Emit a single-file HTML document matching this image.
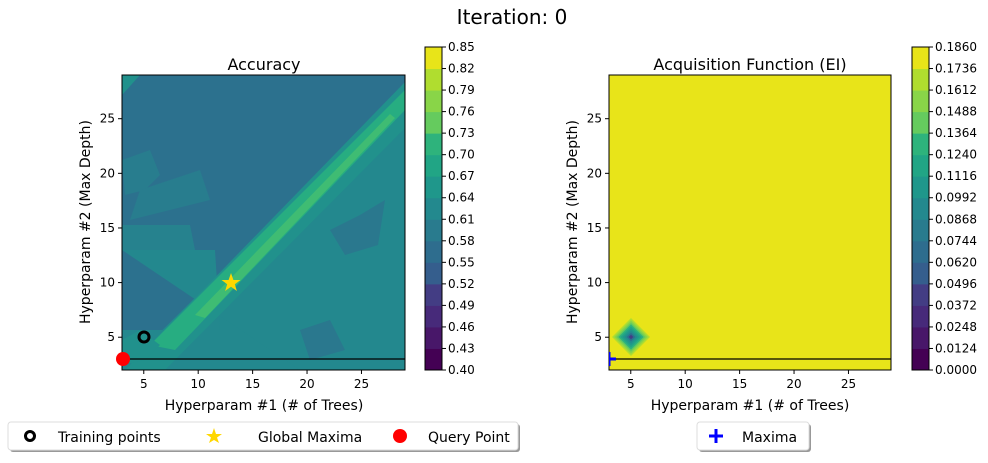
<!DOCTYPE html>
<html><head><meta charset="utf-8"><style>
body{margin:0;background:#fff;}
svg text{font-family:"DejaVu Sans","Liberation Sans",sans-serif;}
</style></head><body>
<svg id="s" width="988" height="458" xmlns="http://www.w3.org/2000/svg">
<rect width="988" height="458" fill="#fff"/>
<text x="512" y="24" font-size="20" text-anchor="middle">Iteration: 0</text>
<text x="264" y="70" font-size="16" text-anchor="middle">Accuracy</text>
<text x="750" y="70" font-size="16" text-anchor="middle">Acquisition Function (EI)</text>
<defs><clipPath id="cl"><rect x="122" y="75" width="283" height="295"/></clipPath>
<clipPath id="cr"><rect x="609" y="75" width="282" height="295"/></clipPath></defs>
<g clip-path="url(#cl)">
<rect x="122" y="75" width="283" height="295" fill="#2c718e"/>
<polygon points="122,370 405,90 405,370" fill="#23888e"/>
<polygon points="122,225 190,225 195,250 122,250" fill="#26828e"/>
<polygon points="122,250 215,250 220,330 122,330 122,370 300,370" fill="#23888e"/>
<polygon points="330,230 360,215 385,200 378,245 345,255" fill="#2a788e"/>
<polygon points="300,330 330,320 345,350 310,360" fill="#2a788e"/>
<polygon points="122,160 150,150 160,175 145,190 125,195" fill="#287d8e"/>
<polygon points="140,190 200,170 210,200 170,210 130,220" fill="#287d8e"/>
<polygon points="122,75 140,75 122,95" fill="#21918c"/>
<polygon points="125,370 165,370 405,128 405,82 " fill="#21918c"/>
<polygon points="150,345 175,350 405,110 405,90 " fill="#27ad81"/>
<polygon points="195,315 205,318 395,118 390,114" fill="#3fbc73"/>
<polygon points="122,340 140,330 160,345 145,360 122,365" fill="#21918c"/>
</g>
<rect x="122" y="75" width="283" height="295" fill="none" stroke="#000" stroke-width="1"/>
<line x1="122" y1="359" x2="405" y2="359" stroke="#000" stroke-width="1.2"/>
<circle cx="144" cy="337" r="5" fill="none" stroke="#000" stroke-width="3"/>
<polygon points="231,273 233.4,280 240.5,280 234.8,284.2 236.9,291 231,286.8 225.1,291 227.2,284.2 221.5,280 228.6,280" fill="#ffd700"/>
<circle cx="123" cy="359" r="7" fill="#f00"/>

<rect x="609" y="75" width="282" height="295" fill="#e8e419"/>
<g id="dia"></g>
<rect x="609" y="75" width="282" height="295" fill="none" stroke="#000" stroke-width="1"/>
<line x1="609" y1="359" x2="891" y2="359" stroke="#000" stroke-width="1.2"/>
<g clip-path="url(#cr)"><path d="M609,352 V366 M603,359 H616" stroke="#00f" stroke-width="3"/></g>

<g id="ax" font-size="12"></g>
<text x="264" y="410" font-size="14" text-anchor="middle">Hyperparam #1 (# of Trees)</text>
<text x="750" y="410" font-size="14" text-anchor="middle">Hyperparam #1 (# of Trees)</text>
<text transform="translate(90,222) rotate(-90)" font-size="14" text-anchor="middle">Hyperparam #2 (Max Depth)</text>
<text transform="translate(577,222) rotate(-90)" font-size="14" text-anchor="middle">Hyperparam #2 (Max Depth)</text>

<rect x="10" y="424" width="510" height="28" rx="3" fill="#999"/>
<rect x="8" y="422" width="510" height="28" rx="3" fill="#fff" stroke="#ddd"/>
<circle cx="30" cy="436" r="4.5" fill="none" stroke="#000" stroke-width="3"/>
<text x="58" y="442" font-size="14">Training points</text>
<polygon points="214,428 216,434 222,434 217,437.5 219,443 214,440 209,443 211,437.5 206,434 212,434" fill="#ffd700"/>
<text x="258" y="442" font-size="14">Global Maxima</text>
<circle cx="400" cy="436" r="7" fill="#f00"/>
<text x="428" y="442" font-size="14">Query Point</text>
<rect x="699" y="424" width="112" height="28" rx="3" fill="#999"/>
<rect x="697" y="422" width="112" height="28" rx="3" fill="#fff" stroke="#ddd"/>
<path d="M716,429 V443 M709,436 H723" stroke="#00f" stroke-width="3"/>
<text x="742" y="442" font-size="14">Maxima</text>
</svg>
<script>
const V=["#440154","#481769","#472a7a","#433d84","#3d4e8a","#355e8d","#2e6d8e","#297b8e","#23898e","#1f978b","#21a585","#2eb37c","#46c06f","#65cb5e","#89d548","#b0dd2f","#e8e419"];
const cols=[];for(let i=0;i<15;i++)cols.push(V[Math.round(i*16/14)]);
cols[14]="#e8e419";
const ns="http://www.w3.org/2000/svg",s=document.getElementById('s'),ax=document.getElementById('ax');
function el(t,a,p){const e=document.createElementNS(ns,t);for(const k in a)e.setAttribute(k,a[k]);(p||s).appendChild(e);return e;}
function txt(x,y,str,anchor){const e=el('text',{x:x,y:y,'text-anchor':anchor||'start'},ax);e.textContent=str;}
function cbar(x0,labels){const y0=47,h=323,w=17;for(let i=0;i<15;i++){el('rect',{x:x0,y:y0+h-(i+1)*h/15,width:w,height:h/15+0.5,fill:cols[i]});}
el('rect',{x:x0,y:y0,width:w,height:h,fill:'none',stroke:'#000','stroke-width':1});
for(let i=0;i<16;i++){const y=y0+h-i*h/15;el('line',{x1:x0+w,x2:x0+w+4,y1:y,y2:y,stroke:'#000'});txt(x0+w+6,y+4,labels[i]);}}
const L=[],R=[];for(let i=0;i<16;i++){L.push((0.40+0.03*i).toFixed(2));R.push((0.0124*i).toFixed(4));}
cbar(425,L);cbar(912,R);
for(const [ox] of [[122],[609]]){
for(const v of [5,10,15,20,25]){const x=ox+(v-3)*283/26;el('line',{x1:x,x2:x,y1:370,y2:374,stroke:'#000'});txt(x,388,String(v),'middle');
const y=370-(v-2)*295/27;el('line',{x1:ox-4,x2:ox,y1:y,y2:y,stroke:'#000'});txt(ox-7,y+4,String(v),'end');}}
const g=document.getElementById('dia');const cx=631,cy=337;
const dc=[cols[13],cols[12],cols[11],cols[10],cols[9],cols[8],cols[7],cols[5],cols[3]];
dc.forEach((c,i)=>{const r=19-i*2.1;el('polygon',{points:`${cx},${cy-r} ${cx+r},${cy} ${cx},${cy+r} ${cx-r},${cy}`,fill:c},g);});
</script>
</body></html>
